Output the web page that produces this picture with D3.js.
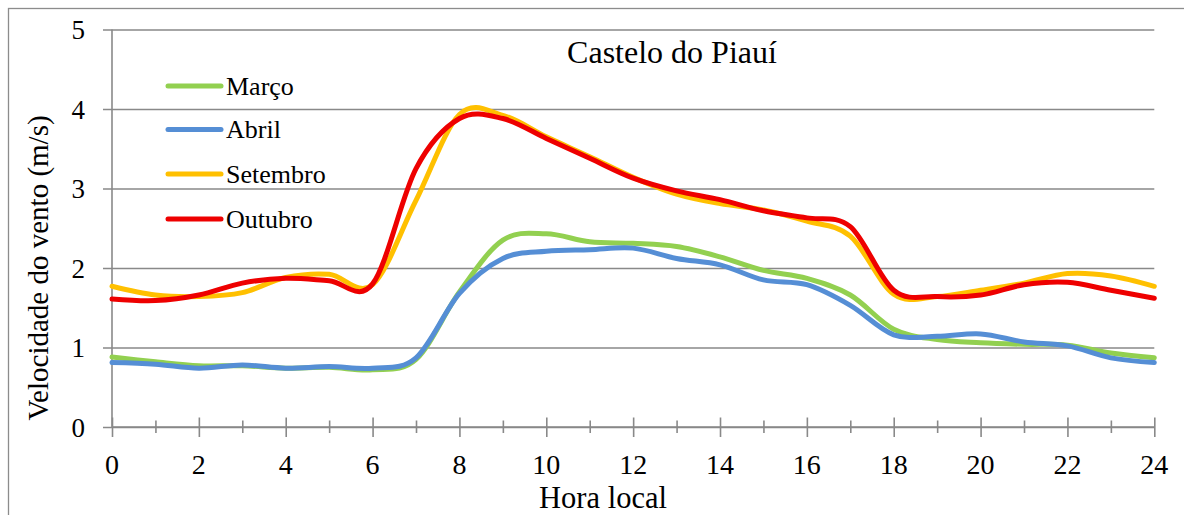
<!DOCTYPE html>
<html><head><meta charset="utf-8">
<script src="https://cdn.jsdelivr.net/npm/d3@7"></script>
<style>
html,body{margin:0;padding:0;background:#fff;}
svg{display:block;}
text{font-family:"Liberation Serif","Times New Roman",serif;}
</style></head>
<body><svg id="c" width="1184" height="515"></svg>
<script>
const hours = d3.range(0, 25);
const marco    = [0.88,0.82,0.77,0.77,0.74,0.75,0.72,0.85,1.70,2.35,2.43,2.33,2.31,2.27,2.14,1.97,1.87,1.66,1.23,1.10,1.06,1.04,1.03,0.93,0.87];
const abril    = [0.81,0.79,0.74,0.78,0.74,0.76,0.74,0.87,1.68,2.12,2.21,2.23,2.25,2.12,2.04,1.85,1.79,1.53,1.16,1.14,1.17,1.07,1.02,0.87,0.81];
const setembro = [1.77,1.66,1.64,1.69,1.88,1.92,1.79,2.85,3.93,3.92,3.65,3.40,3.14,2.93,2.81,2.73,2.59,2.40,1.67,1.64,1.72,1.81,1.93,1.90,1.77];
const outubro  = [1.61,1.59,1.66,1.81,1.87,1.84,1.80,3.25,3.88,3.88,3.63,3.38,3.13,2.97,2.86,2.72,2.63,2.52,1.72,1.64,1.66,1.79,1.82,1.72,1.62];
const seriesNames = ["Março","Abril","Setembro","Outubro"];
const seriesColors = ["#92D050","#558ED5","#FFC000","#EE0000"];
const yTicks = [0,1,2,3,4,5];
const xTicks = d3.range(0, 25, 2);
const title = "Castelo do Piauí";
const xTitle = "Hora local";
const yTitle = "Velocidade do vento (m/s)";

const series = [marco, abril, setembro, outubro];
const svg = d3.select("#c");
const x = d3.scaleLinear().domain([0,24]).range([112,1154.3]);
const y = d3.scaleLinear().domain([0,5]).range([427,29.5]);
const grid = "#898989";

// outer frame
svg.append("rect").attr("x",8.5).attr("y",8.5).attr("width",1200).attr("height",520)
  .attr("fill","none").attr("stroke","#8c8c8c").attr("stroke-width",1.3);

// horizontal gridlines + left ticks
const yAxis = d3.axisLeft(y).tickValues(yTicks).tickSize(-(x(24)-x(0))).tickSizeOuter(0).tickPadding(0).tickFormat("");
const gy = svg.append("g").attr("transform",`translate(${x(0)},0)`).call(yAxis);
gy.select(".domain").remove();
gy.selectAll(".tick line").attr("stroke",grid).attr("stroke-width",1.6).attr("x1",-9);
// y labels
svg.append("g").selectAll("text").data(yTicks).join("text")
  .attr("x",85).attr("y",d=>y(d)+9.5).attr("text-anchor","end")
  .attr("font-size",27).attr("fill","#000").text(d=>d);

// vertical axis line
svg.append("line").attr("x1",x(0)).attr("x2",x(0)).attr("y1",y(5)).attr("y2",y(0))
  .attr("stroke",grid).attr("stroke-width",1.6);

// x ticks (major / minor) via axis
const gxMinor = svg.append("g").attr("transform",`translate(0,${y(0)})`)
  .call(d3.axisBottom(x).tickValues(d3.range(1,24,2)).tickSize(6).tickFormat(""));
gxMinor.select(".domain").remove();
gxMinor.selectAll(".tick line").attr("stroke",grid).attr("stroke-width",1.6).attr("y1",-6.5);
const gxMajor = svg.append("g").attr("transform",`translate(0,${y(0)})`)
  .call(d3.axisBottom(x).tickValues(xTicks).tickSize(10).tickSizeOuter(0).tickFormat(""));
gxMajor.select(".domain").attr("d",`M${x(0)},0H${x(24)}`).attr("stroke",grid).attr("stroke-width",1.6);
gxMajor.selectAll(".tick line").attr("stroke",grid).attr("stroke-width",1.6).attr("y1",-9.5);
svg.append("g").selectAll("text").data(xTicks).join("text")
  .attr("x",d=>x(d)).attr("y",474).attr("text-anchor","middle")
  .attr("font-size",28).attr("fill","#000").text(d=>d);

// lines
const line = d3.line().x((d,i)=>x(hours[i])).y(d=>y(d)).curve(d3.curveCardinal.tension(0));
svg.append("g").selectAll("path").data(series).join("path")
  .attr("d",line).attr("fill","none")
  .attr("stroke",(d,i)=>seriesColors[i]).attr("stroke-width",5)
  .attr("stroke-linejoin","round").attr("stroke-linecap","round");

// legend
const lg = svg.append("g");
const legY = [86,129.5,174,219];
seriesNames.forEach((n,i)=>{
  lg.append("line").attr("x1",168).attr("x2",221).attr("y1",legY[i]).attr("y2",legY[i])
    .attr("stroke",seriesColors[i]).attr("stroke-width",5).attr("stroke-linecap","round");
  lg.append("text").attr("x",226).attr("y",legY[i]+8.5).attr("font-size",26).attr("fill","#000").text(n);
});

// titles
svg.append("text").attr("x",672).attr("y",63).attr("text-anchor","middle")
  .attr("font-size",32).attr("fill","#000").text(title);
svg.append("text").attr("x",603).attr("y",507.5).attr("text-anchor","middle")
  .attr("font-size",30.5).attr("fill","#000").text(xTitle);
svg.append("text").attr("transform","translate(48,268) rotate(-90)").attr("text-anchor","middle")
  .attr("font-size",29).attr("fill","#000").text(yTitle);
</script></body></html>
